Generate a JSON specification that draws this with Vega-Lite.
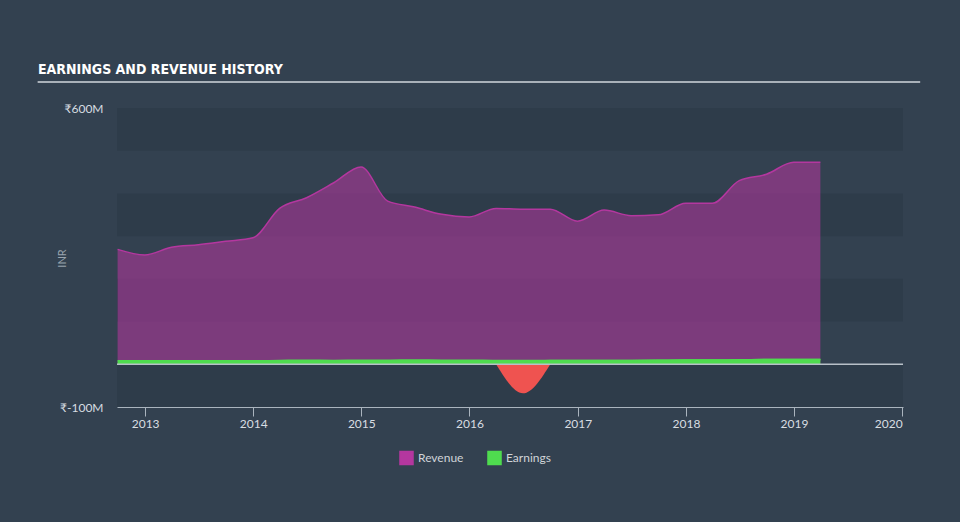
{
  "$schema": "https://vega.github.io/schema/vega-lite/v6.json",
  "width": 786,
  "height": 299,
  "autosize": {"type": "none"},
  "padding": {"left": 117, "top": 108, "right": 57, "bottom": 115},
  "background": "#334150",
  "config": {"view": {"stroke": null}, "font": "Lato"},
  "title": {"text": "EARNINGS AND REVENUE HISTORY", "anchor": "start", "frame": "group", "dx": -79, "offset": 4, "font": "DejaVu Sans Condensed", "fontSize": 14, "fontWeight": "bold", "color": "#ffffff"},
  "datasets": {
    "bands": [
      {"lo": 500000000, "hi": 600000000},
      {"lo": 300000000, "hi": 400000000},
      {"lo": 100000000, "hi": 200000000},
      {"lo": -100000000, "hi": 0}
    ],
    "revenue": [
      {"date": "2012-09-30", "value": 269000000},
      {"date": "2012-12-31", "value": 256000000},
      {"date": "2013-03-31", "value": 274000000},
      {"date": "2013-06-30", "value": 280000000},
      {"date": "2013-09-30", "value": 288000000},
      {"date": "2013-12-31", "value": 296000000},
      {"date": "2014-03-31", "value": 365000000},
      {"date": "2014-06-30", "value": 390000000},
      {"date": "2014-09-30", "value": 425000000},
      {"date": "2014-12-31", "value": 462000000},
      {"date": "2015-03-31", "value": 382000000},
      {"date": "2015-06-30", "value": 368000000},
      {"date": "2015-09-30", "value": 351000000},
      {"date": "2015-12-31", "value": 345000000},
      {"date": "2016-03-31", "value": 365000000},
      {"date": "2016-06-30", "value": 363000000},
      {"date": "2016-09-30", "value": 363000000},
      {"date": "2016-12-31", "value": 335000000},
      {"date": "2017-03-31", "value": 361000000},
      {"date": "2017-06-30", "value": 348000000},
      {"date": "2017-09-30", "value": 350000000},
      {"date": "2017-12-31", "value": 377000000},
      {"date": "2018-03-31", "value": 377000000},
      {"date": "2018-06-30", "value": 430000000},
      {"date": "2018-09-30", "value": 445000000},
      {"date": "2018-12-31", "value": 473000000},
      {"date": "2019-03-31", "value": 473000000}
    ],
    "earnings": [
      {"date": "2012-09-30", "value": 8000000, "seg": 1},
      {"date": "2012-12-31", "value": 8000000, "seg": 1},
      {"date": "2013-03-31", "value": 8000000, "seg": 1},
      {"date": "2013-06-30", "value": 8000000, "seg": 1},
      {"date": "2013-09-30", "value": 8000000, "seg": 1},
      {"date": "2013-12-31", "value": 8000000, "seg": 1},
      {"date": "2014-03-31", "value": 9000000, "seg": 1},
      {"date": "2014-06-30", "value": 9500000, "seg": 1},
      {"date": "2014-09-30", "value": 9000000, "seg": 1},
      {"date": "2014-12-31", "value": 9500000, "seg": 1},
      {"date": "2015-03-31", "value": 9500000, "seg": 1},
      {"date": "2015-06-30", "value": 10000000, "seg": 1},
      {"date": "2015-09-30", "value": 9500000, "seg": 1},
      {"date": "2015-12-31", "value": 9500000, "seg": 1},
      {"date": "2016-03-31", "value": 9000000, "seg": 1},
      {"date": "2016-09-30", "value": 9000000, "seg": 2},
      {"date": "2016-12-31", "value": 9000000, "seg": 2},
      {"date": "2017-03-31", "value": 9000000, "seg": 2},
      {"date": "2017-06-30", "value": 9000000, "seg": 2},
      {"date": "2017-09-30", "value": 9500000, "seg": 2},
      {"date": "2017-12-31", "value": 10000000, "seg": 2},
      {"date": "2018-03-31", "value": 10000000, "seg": 2},
      {"date": "2018-06-30", "value": 10500000, "seg": 2},
      {"date": "2018-09-30", "value": 11000000, "seg": 2},
      {"date": "2018-12-31", "value": 11000000, "seg": 2},
      {"date": "2019-03-31", "value": 11000000, "seg": 2}
    ],
    "loss": [
      {"date": "2016-03-31", "value": 0},
      {"date": "2016-06-30", "value": -68000000},
      {"date": "2016-09-30", "value": 0}
    ]
  },
  "layer": [
    {
      "data": {"name": "bands"},
      "mark": {"type": "rect", "fill": "#283442", "opacity": 0.38},
      "encoding": {
        "y": {"field": "hi", "type": "quantitative", "scale": {"domain": [-100000000, 600000000], "nice": false, "zero": false},
          "axis": {"title": "INR", "values": [-100000000, 600000000], "labelExpr": "'₹' + (datum.value / 1000000) + 'M'", "domain": false, "ticks": false, "grid": false, "labelPadding": 14, "labelColor": "#d8dde2", "labelFontSize": 12, "titleColor": "#9aa4ae", "titleFontSize": 11, "titleFontWeight": "normal", "titleX": -50, "titleY": 150}},
        "y2": {"field": "lo"}
      }
    },
    {
      "data": {"name": "revenue"},
      "mark": {"type": "area", "interpolate": "monotone", "fillOpacity": 0.57, "line": {"strokeWidth": 1.5, "interpolate": "monotone"}},
      "encoding": {
        "x": {"field": "date", "type": "temporal", "scale": {"domain": ["2012-09-28", "2020-01-04"], "nice": false},
          "axis": {"title": null, "format": "%Y", "tickCount": {"interval": "year", "step": 1}, "grid": false, "domainColor": "#aab4be", "tickColor": "#aab4be", "tickSize": 9, "labelColor": "#d8dde2", "labelFontSize": 12, "labelPadding": 2}},
        "y": {"field": "value", "type": "quantitative"},
        "color": {"datum": "Revenue", "type": "nominal", "scale": {"domain": ["Revenue", "Earnings"], "range": ["#b4379f", "#4fdc4f"]},
          "legend": {"title": null, "orient": "none", "legendX": 282, "legendY": 342, "direction": "horizontal", "symbolType": "square", "symbolSize": 170, "symbolOpacity": 1, "labelColor": "#d0d4d8", "labelFontSize": 12, "columnPadding": 20}}
      }
    },
    {
      "data": {"name": "earnings"},
      "mark": {"type": "area", "interpolate": "monotone", "fillOpacity": 1, "line": {"strokeWidth": 1.5, "interpolate": "monotone"}},
      "encoding": {
        "x": {"field": "date", "type": "temporal"},
        "y": {"field": "value", "type": "quantitative"},
        "detail": {"field": "seg", "type": "nominal"},
        "color": {"datum": "Earnings", "type": "nominal"}
      }
    },
    {
      "data": {"name": "loss"},
      "mark": {"type": "area", "interpolate": "monotone", "color": "#ef5350"},
      "encoding": {
        "x": {"field": "date", "type": "temporal"},
        "y": {"field": "value", "type": "quantitative"}
      }
    },
    {
      "data": {"values": [{}]},
      "mark": {"type": "rule", "color": "#b8c0c8", "strokeWidth": 1.5},
      "encoding": {
        "y": {"datum": 0, "type": "quantitative"}
      }
    },
    {
      "data": {"values": [{}]},
      "mark": {"type": "rule", "color": "#a9b1b9", "strokeWidth": 2},
      "encoding": {
        "x": {"datum": {"year": 2012, "month": 1, "date": 4}, "type": "temporal"},
        "x2": {"datum": {"year": 2020, "month": 3, "date": 2}},
        "y": {"datum": 661000000, "type": "quantitative"}
      }
    }
  ]
}
